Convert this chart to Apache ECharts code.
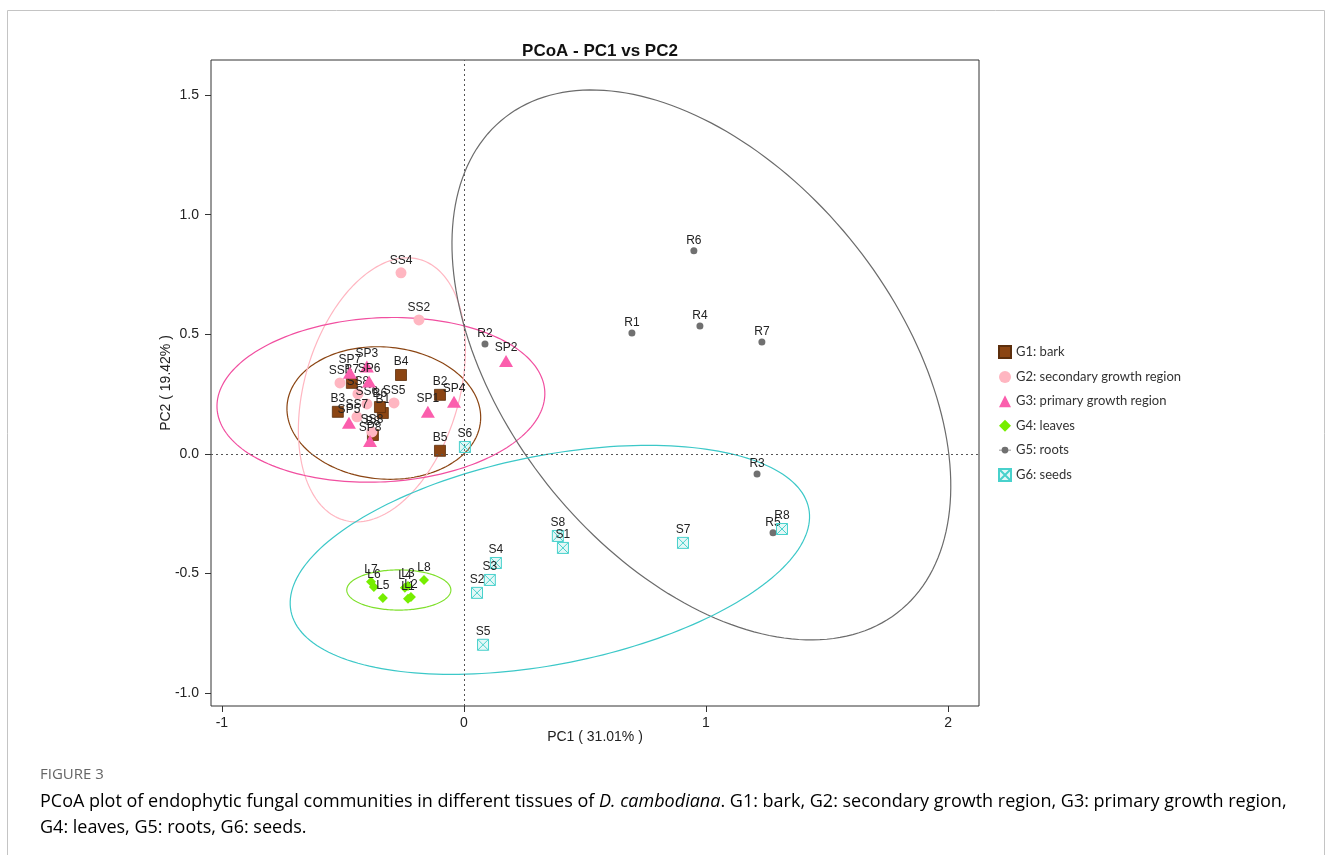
<!DOCTYPE html>
<html>
<head>
<meta charset="utf-8">
<script src="https://cdn.jsdelivr.net/npm/echarts@6/dist/echarts.min.js"></script>
<style>
  html, body { margin: 0; padding: 0; background: #ffffff; }
  #chart { width: 1330px; height: 855px; }
</style>
</head>
<body>
<div id="chart"></div>
<script>
// PCoA scores per tissue group: [sample, PC1, PC2]
const bark = [
  ['B1', -0.335, 0.171], ['B2', -0.099, 0.247], ['B3', -0.521, 0.176], ['B4', -0.260, 0.330],
  ['B5', -0.099, 0.013], ['B6', -0.347, 0.196], ['B7', -0.463, 0.297], ['B8', -0.376, 0.079]
];
const secondary = [
  ['SS1', -0.512, 0.297], ['SS2', -0.186, 0.560], ['SS3', -0.380, 0.092], ['SS4', -0.260, 0.757],
  ['SS5', -0.289, 0.213], ['SS6', -0.401, 0.209], ['SS7', -0.442, 0.155], ['SS8', -0.438, 0.251]
];
const primary = [
  ['SP1', -0.149, 0.176], ['SP2', 0.174, 0.389], ['SP3', -0.401, 0.366], ['SP4', -0.041, 0.218],
  ['SP5', -0.475, 0.130], ['SP6', -0.392, 0.303], ['SP7', -0.471, 0.339], ['SP8', -0.388, 0.054]
];
const leaves = [
  ['L1', -0.231, -0.606], ['L2', -0.219, -0.598], ['L3', -0.231, -0.552], ['L4', -0.244, -0.560],
  ['L5', -0.335, -0.602], ['L6', -0.372, -0.556], ['L7', -0.384, -0.535], ['L8', -0.165, -0.527]
];
const roots = [
  ['R1', 0.694, 0.506], ['R2', 0.087, 0.460], ['R3', 1.211, -0.084], ['R4', 0.975, 0.535],
  ['R5', 1.277, -0.330], ['R6', 0.950, 0.849], ['R7', 1.231, 0.468]
];
const seeds = [
  ['S1', 0.409, -0.393], ['S2', 0.054, -0.581], ['S3', 0.107, -0.527], ['S4', 0.132, -0.456],
  ['S5', 0.079, -0.798], ['S6', 0.004, 0.029], ['S7', 0.905, -0.372], ['S8', 0.388, -0.343],
  ['R8', 1.314, -0.314]
];

const groupNames = ['G1: bark', 'G2: secondary growth region', 'G3: primary growth region',
                    'G4: leaves', 'G5: roots', 'G6: seeds'];
const xTicks = [-1, 0, 1, 2];
const yTicks = [-1.0, -0.5, 0.0, 0.5, 1.0, 1.5];

// group ellipses: centre [PC1, PC2], semi-axes, rotation in degrees
const ellipseCentres = [[-0.331, 0.171], [-0.339, 0.268], [-0.343, 0.226], [-0.269, -0.569], [0.981, 0.372], [0.355, -0.443]];
const ellipseRadii   = [[0.401, 0.276], [0.567, 0.320], [0.678, 0.343], [0.215, 0.084], [1.315, 0.809], [1.091, 0.436]];
const ellipseAngles  = [-5, 74, 3, 0, -52, 11.4];

const markerColors  = ['#8B4513', '#FFB6C1', '#FB5EAD', '#76EE00', '#707070', '#48D1CC'];
const ellipseColors = ['#8B4513', '#FFB6C1', '#F14FA0', '#7FE02C', '#6B6B6B', '#3CC8C8'];

const seedSymbol = 'path://M0,0L10,0L10,10L0,10Z M0,0L10,10 M10,0L0,10';
const rootLegendIcon = 'path://M0,3.5L14,3.5L14,4.5L0,4.5Z M7,0A4,4 0 1 1 6.99,0Z';

const labelStyle = {
  show: true, position: 'top', distance: 1, formatter: '{b}',
  fontFamily: 'Liberation Sans', fontSize: 12, color: '#222'
};

function points(rows) {
  return rows.map(r => ({ name: r[0], value: [r[1], r[2]] }));
}

const groups = [bark, secondary, primary, leaves, roots, seeds];
const symbols = ['rect', 'circle', 'triangle', 'diamond', 'circle', seedSymbol];
const sizes = [11, 11, [14, 12], 10, 7, 11];

const scatterSeries = groups.map((rows, i) => {
  const s = {
    type: 'scatter',
    name: groupNames[i],
    data: points(rows),
    symbol: symbols[i],
    symbolSize: sizes[i],
    z: 3 + i,
    label: labelStyle,
    itemStyle: { color: markerColors[i], opacity: 1 },
    emphasis: { disabled: true }
  };
  if (i === 0) {
    s.itemStyle = { color: markerColors[0], borderColor: '#5C2E0C', borderWidth: 0.8, opacity: 1 };
    s.markLine = {
      silent: true, symbol: 'none', label: { show: false },
      lineStyle: { type: [2, 3], color: '#555', width: 1 },
      emphasis: { disabled: true },
      data: [{ xAxis: 0 }, { yAxis: 0 }]
    };
  }
  if (i === 5) {
    s.itemStyle = { color: 'rgba(72,209,204,0.15)', borderColor: markerColors[5], borderWidth: 1, opacity: 1 };
  }
  return s;
});

const ellipseSeries = {
  type: 'custom',
  name: 'ellipses',
  silent: true,
  z: 2,
  data: ellipseCentres.map(c => [c[0], c[1]]),
  encode: { x: 0, y: 1 },
  renderItem: function (params, api) {
    const i = params.dataIndex;
    const c = ellipseCentres[i], r = ellipseRadii[i];
    const th = ellipseAngles[i] * Math.PI / 180;
    const pts = [];
    for (let k = 0; k <= 200; k++) {
      const t = k / 200 * 2 * Math.PI;
      const ex = r[0] * Math.cos(t), ey = r[1] * Math.sin(t);
      pts.push(api.coord([c[0] + ex * Math.cos(th) - ey * Math.sin(th),
                          c[1] + ex * Math.sin(th) + ey * Math.cos(th)]));
    }
    return {
      type: 'polyline',
      shape: { points: pts },
      style: { stroke: ellipseColors[i], lineWidth: 1.2, fill: null }
    };
  }
};

const captionFont = { fontFamily: 'Open Sans', fontSize: 18, color: '#555' };

const chart = echarts.init(document.getElementById('chart'), null, { renderer: 'canvas' });
chart.setOption({
  animation: false,
  backgroundColor: '#ffffff',
  title: {
    text: 'PCoA - PC1 vs PC2',
    left: 595, top: 38, textAlign: 'center',
    textStyle: { fontFamily: 'Liberation Sans', fontSize: 17, fontWeight: 'bold', color: '#111' }
  },
  grid: {
    left: 211, top: 60, width: 768, height: 646,
    show: true, borderColor: '#333', borderWidth: 1, backgroundColor: 'transparent'
  },
  xAxis: {
    type: 'value', min: -1.045, max: 2.128,
    name: 'PC1 ( 31.01% )', nameLocation: 'middle', nameGap: 24, nameMoveOverlap: false,
    nameTextStyle: { fontFamily: 'Liberation Sans', fontSize: 14, color: '#222' },
    axisLine: { show: false, onZero: false },
    axisTick: { show: true, inside: false, length: 6, customValues: xTicks, lineStyle: { color: '#333' } },
    axisLabel: { customValues: xTicks, margin: 10, fontFamily: 'Liberation Sans', fontSize: 14, color: '#222',
                 formatter: v => String(v) },
    splitLine: { show: false }
  },
  yAxis: {
    type: 'value', min: -1.054, max: 1.647,
    name: 'PC2 ( 19.42% )', nameLocation: 'middle', nameGap: 38, nameMoveOverlap: false,
    nameTextStyle: { fontFamily: 'Liberation Sans', fontSize: 14, color: '#222' },
    axisLine: { show: false, onZero: false },
    axisTick: { show: true, inside: false, length: 6, customValues: yTicks, lineStyle: { color: '#333' } },
    axisLabel: { customValues: yTicks, margin: 12, fontFamily: 'Liberation Sans', fontSize: 14, color: '#222',
                 formatter: v => v.toFixed(1) },
    splitLine: { show: false }
  },
  legend: {
    orient: 'vertical', left: 993, top: 340,
    itemWidth: 12, itemHeight: 12, itemGap: 11.4,
    textStyle: { fontFamily: 'Lato', fontSize: 13, color: '#333', lineHeight: 12 },
    data: groupNames.map((n, i) => i === 4 ? { name: n, icon: rootLegendIcon } : { name: n })
  },
  graphic: [
    { type: 'rect', silent: true, shape: { x: 7.5, y: 10.5, width: 1317, height: 900 },
      style: { fill: null, stroke: '#c4c4c4', lineWidth: 1 } },
    { type: 'text', left: 40, top: 767, silent: true,
      style: { text: 'FIGURE 3', fontFamily: 'Open Sans', fontSize: 15, fill: '#666' } },
    { type: 'text', left: 40, top: 793, silent: true,
      style: {
        text: '{n|PCoA plot of endophytic fungal communities in different tissues of }{i|D. cambodiana}{n|. G1: bark, G2: secondary growth region, G3: primary growth region,}',
        rich: {
          n: captionFont,
          i: Object.assign({}, captionFont, { fontStyle: 'italic' })
        }
      } },
    { type: 'text', left: 40, top: 819, silent: true,
      style: {
        text: '{n|G4: leaves, G5: roots, G6: seeds.}',
        rich: { n: captionFont }
      } }
  ],
  series: [ellipseSeries].concat(scatterSeries)
});
</script>
</body>
</html>
